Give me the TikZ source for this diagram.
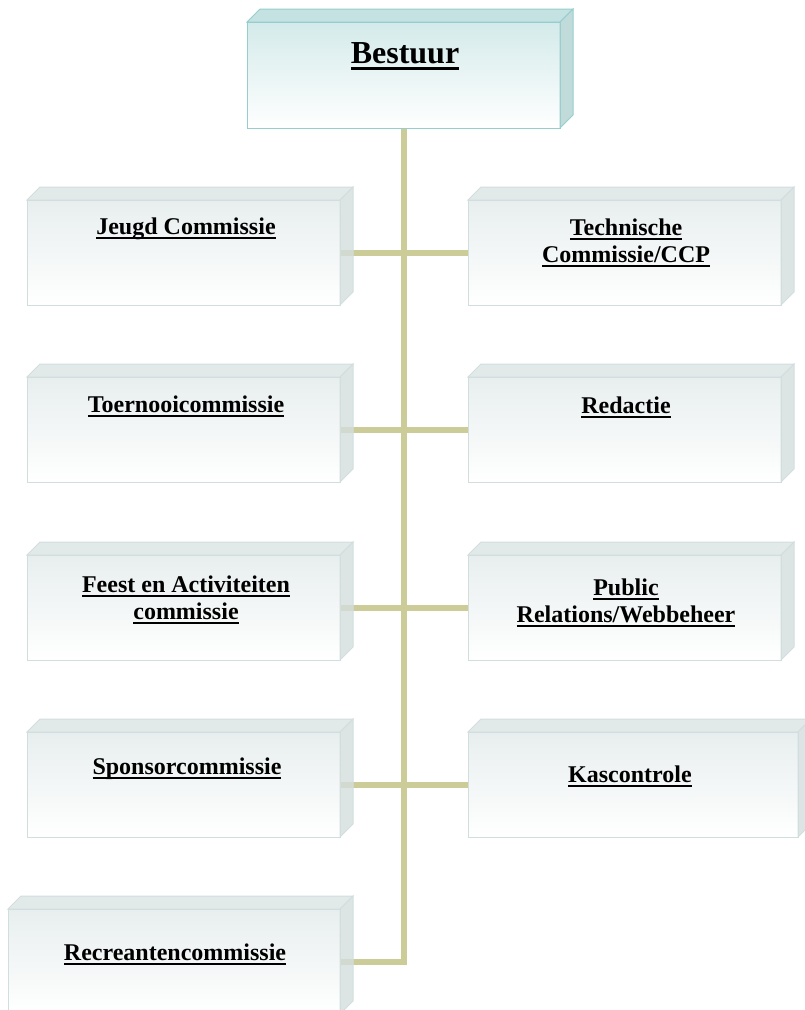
\documentclass[tikz,border=0pt]{standalone}
\usepackage{fontspec}
\setmainfont{Liberation Serif}
\usetikzlibrary{backgrounds}
\definecolor{linec}{RGB}{204,204,153}
\definecolor{obord}{RGB}{210,222,222}
\definecolor{ofront}{RGB}{232,238,238}
\definecolor{otop}{RGB}{226,233,233}
\definecolor{oside}{RGB}{212,221,221}
\definecolor{bbord}{RGB}{150,205,205}
\definecolor{bfront}{RGB}{212,234,234}
\definecolor{btop}{RGB}{196,226,226}
\definecolor{bside}{RGB}{176,208,208}
\newcommand\uln[1]{\setbox0\hbox{#1}\leavevmode\rlap{\rule[-0.21em]{\wd0}{0.085em}}\box0}
\newcommand\faces[4]{%
  \fill[#2,draw=#4,line width=1pt] (#1.north west) -- ++(13,-13) -- ([shift={(13,-13)}]#1.north east) -- (#1.north east) -- cycle;
  \fill[#3,draw=#4,line width=1pt,fill opacity=0.78] (#1.north east) -- ++(13,-13) -- ([shift={(13,-13)}]#1.south east) -- (#1.south east) -- cycle;}
\tikzset{
  frontbox/.style={rectangle, anchor=north west, inner sep=0pt, outer sep=0pt,
    draw=obord, line width=1pt, top color=ofront, bottom color=white, minimum height=105pt},
  headbox/.style={frontbox, draw=bbord, top color=bfront, minimum height=106pt},
  lbl/.style={font=\fontsize{24}{27}\selectfont\bfseries, align=center, inner sep=0pt, anchor=base},
  headlbl/.style={lbl, font=\fontsize{32}{36}\selectfont\bfseries},
  conn/.style={draw=linec, line width=6pt}
}
\begin{document}
\begin{tikzpicture}[x=1pt,y=-1pt]
\useasboundingbox (0,0) rectangle (804,1010);
% front faces
\node[headbox, minimum width=313pt] (bestuur) at (247,22) {};
\node[frontbox, minimum width=313pt] (jeugd) at (27,200) {};
\node[frontbox, minimum width=313pt] (tech) at (468,200) {};
\node[frontbox, minimum width=313pt] (toern) at (27,377) {};
\node[frontbox, minimum width=313pt] (redac) at (468,377) {};
\node[frontbox, minimum width=313pt] (feest) at (27,555) {};
\node[frontbox, minimum width=313pt] (public) at (468,555) {};
\node[frontbox, minimum width=313pt] (sponsor) at (27,732) {};
\node[frontbox, minimum width=330pt] (kas) at (468,732) {};
\node[frontbox, minimum width=332pt] (recr) at (8,909) {};
% connectors
\begin{pgfonlayer}{background}
\draw[conn] (bestuur.south) |- (recr.east);
\draw[conn] (jeugd.east) -- (tech.west);
\draw[conn] (toern.east) -- (redac.west);
\draw[conn] (feest.east) -- (public.west);
\draw[conn] (sponsor.east) -- (kas.west);
\end{pgfonlayer}
% 3D faces
\faces{bestuur}{btop}{bside}{bbord}
\foreach \n in {jeugd,tech,toern,redac,feest,public,sponsor,kas,recr}{\faces{\n}{otop}{oside}{obord}}
% labels (base = baseline of last line)
\node[headlbl] (lb) at (405,63) {\uln{Bestuur}};
\node[lbl] (l1) at (186,234) {\uln{Jeugd Commissie}};
\node[lbl] (l2) at (626,262) {\uln{Technische}\\\uln{Commissie/CCP}};
\node[lbl] (l3) at (186,412) {\uln{Toernooicommissie}};
\node[lbl] (l4) at (626,413) {\uln{Redactie}};
\node[lbl] (l5) at (186,619) {\uln{Feest en Activiteiten}\\\uln{commissie}};
\node[lbl] (l6) at (626,622) {\uln{Public}\\\uln{Relations/Webbeheer}};
\node[lbl] (l7) at (187,774) {\uln{Sponsorcommissie}};
\node[lbl] (l8) at (630,782) {\uln{Kascontrole}};
\node[lbl] (l9) at (175,960) {\uln{Recreantencommissie}};
\end{tikzpicture}
\end{document}
